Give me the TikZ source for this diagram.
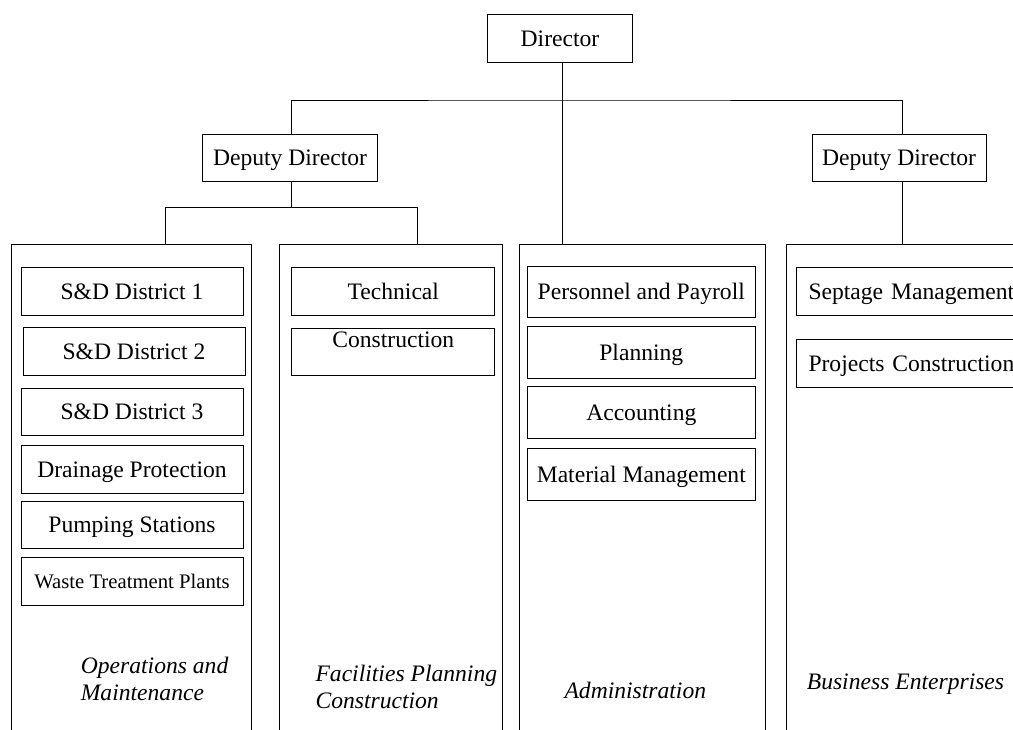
\documentclass[tikz,border=0pt]{standalone}
\usepackage{fontspec}
\setmainfont{Liberation Serif}
\usepackage{tikz}

\begin{document}
\begin{tikzpicture}[x=1pt, y=-1pt, line width=1pt,
  font=\fontsize{23.6}{27}\selectfont,
  unit/.style={draw, inner sep=0pt, minimum height=47.6pt, text height=15.6pt, text depth=0pt},
  omunit/.style={unit, minimum width=222pt},
  fpunit/.style={unit, minimum width=203pt},
  adunit/.style={unit, minimum width=228pt, minimum height=51.6pt},
  beunit/.style={unit, anchor=west, inner xsep=12.3pt, text width=240pt, align=left},
  dept/.style={anchor=base west, align=left, font=\fontsize{23.6}{27}\selectfont\itshape}]

\clip (0,0) rectangle (1013,729);

% top of the chart
\node[unit, minimum width=145pt] (dir) at (560,38.2) {Director};
\node[unit, minimum width=175pt] (dl) at (290,157.9) {Deputy Director};
\node[unit, minimum width=174pt] (dr) at (899,157.9) {Deputy Director};

% the four divisions (open at the bottom)
\draw (11,740) |- (251,244) -- (251,740);
\draw (279,740) |- (502,244) -- (502,740);
\draw (519,740) |- (765,244) -- (765,740);
\draw (786,740) |- (1030,244);

\coordinate (bar) at (562.7,100);
\coordinate (fork) at (291.7,207.7);
\coordinate (om) at (165.7,244);
\coordinate (fp) at (417.3,244);
\coordinate (ad) at (562.7,244);
\coordinate (be) at (902,244);

\draw (dl.north -| fork) |- (bar) -| (dr.north -| be);
\draw (dir.south -| ad) -- (ad);
\draw (dl.south -| fork) -- (fork);
\draw (om) |- (fork) -| (fp);
\draw (dr.south -| be) -- (be);

% Operations and Maintenance
\node[omunit] (sd1) at (132,291.5) {S\&D District 1};
\node[omunit] (sd2) at (134,351.5) {S\&D District 2};
\node[omunit] (sd3) at (132,412) {S\&D District 3};
\node[omunit] (drain) at (132,469.5) {Drainage Protection};
\node[omunit] (pump) at (132,525) {Pumping Stations};
\node[omunit, font=\fontsize{20.7}{24}\selectfont, text height=13.7pt] (waste) at (132,581.5) {Waste Treatment Plants};
\node[dept] (omlab) at (77,700) {Operations and\\Maintenance};

% Facilities Planning Construction
\node[fpunit] (tech) at (393.3,291.5) {Technical};
\node[fpunit, text depth=24pt] (cons) at (393.3,351.8) {Construction};
\node[dept] (fplab) at (311.7,708) {Facilities Planning\\Construction};

% Administration
\node[adunit] (pers) at (641.3,292) {Personnel and Payroll};
\node[adunit] (plan) at (641.3,352.3) {Planning};
\node[adunit] (acct) at (641.3,412.3) {Accounting};
\node[adunit] (matl) at (641.3,474.2) {Material Management};
\node[dept] (adlab) at (560.7,698) {Administration};

% Business Enterprises
\node[beunit] (sept) at (795.7,291.5) {Septage Management};
\node[beunit] (proj) at (795.7,363.2) {Projects Construction};
\node[dept] (belab) at (803,689) {Business Enterprises};

\end{tikzpicture}
\end{document}
